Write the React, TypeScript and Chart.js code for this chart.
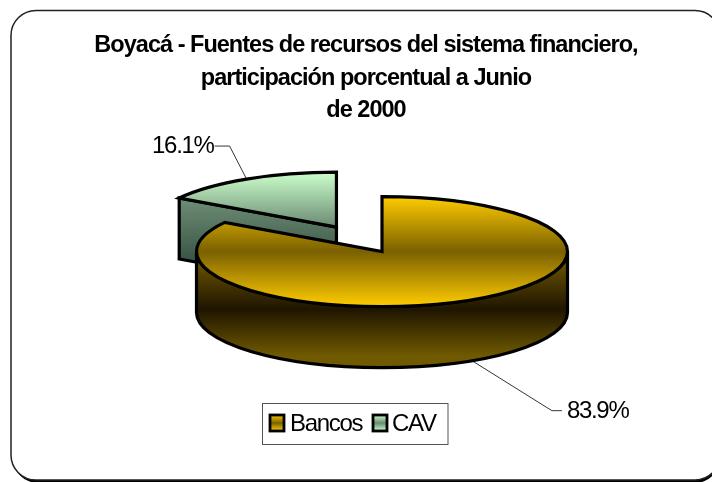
import React, { useEffect, useRef } from "react";
import { Chart, registerables } from "chart.js";

Chart.register(...registerables);

const categories = ["Bancos", "CAV"];
const shares = [83.9, 16.1];
const titleLines = [
  "Boyacá - Fuentes de recursos del sistema financiero,",
  "participación porcentual a Junio",
  "de 2000",
];

const FONT = '"Liberation Sans", Arial, sans-serif';
const DEPTH = 61;
const SQUASH = 0.2965;
const RADIUS = 185.5;
const EXPLODE = 94;
const faceColors = [
  ["#ffcc00", "#7a6000"],
  ["#ccffcc", "#6a8a72"],
];
const wallColors = [
  ["#7a6000", "#1f1500", "#705a00"],
  ["#6e8e76", "#3b5646", "#3b5646"],
];

function geometry(el: any) {
  const mid = (el.startAngle + el.endAngle) / 2;
  const off = el.options.offset || 0;
  const cx = el.x + Math.cos(mid) * off;
  const cy = el.y + Math.sin(mid) * off * SQUASH;
  return { mid, off, cx, cy, r: el.outerRadius };
}

function roundRectPath(ctx: CanvasRenderingContext2D, x: number, y: number, w: number, h: number, r: number) {
  ctx.beginPath();
  ctx.roundRect(x, y, w, h, r);
}

const piePlugin = {
  id: "pie3d",
  afterLayout(chart: any) {
    if (chart.titleBlock) {
      chart.titleBlock.left -= 16;
      chart.titleBlock.right -= 16;
    }
  },
  beforeDraw(chart: any) {
    const ctx = chart.ctx;
    ctx.save();
    roundRectPath(ctx, 13, 13, 707, 470, 25);
    ctx.fillStyle = "#000";
    ctx.fill();
    roundRectPath(ctx, 11, 10.5, 709, 469.5, 25);
    ctx.fillStyle = "#fff";
    ctx.fill();
    ctx.strokeStyle = "#222";
    ctx.lineWidth = 1.5;
    ctx.stroke();
    ctx.restore();
    ctx.letterSpacing = "-0.98px";
  },
  beforeDatasetsDraw(chart: any) {
    chart.ctx.letterSpacing = "0px";
  },
  beforeDatasetDraw(chart: any, args: any) {
    const ctx = chart.ctx;
    const arcs = args.meta.data;
    ctx.save();
    ctx.lineJoin = "miter";
    ctx.lineWidth = 3.2;
    ctx.strokeStyle = "#000";
    for (let i = arcs.length - 1; i >= 0; i--) {
      const el = arcs[i];
      const { cx, cy, r } = geometry(el);
      const a0 = el.startAngle;
      const a1 = el.endAngle;
      const px = (a: number) => cx + r * Math.cos(a);
      const py = (a: number) => cy + r * SQUASH * Math.sin(a);

      // outer wall, front half only
      const w0 = Math.max(a0, 0);
      const w1 = Math.min(a1, Math.PI);
      if (w1 > w0) {
        const g = ctx.createLinearGradient(0, cy, 0, cy + r * SQUASH + DEPTH);
        g.addColorStop(0, wallColors[i][0]);
        g.addColorStop(0.5, wallColors[i][1]);
        g.addColorStop(0.9, wallColors[i][2]);
        g.addColorStop(1, wallColors[i][2]);
        ctx.beginPath();
        ctx.ellipse(cx, cy + DEPTH, r, r * SQUASH, 0, w0, w1);
        ctx.lineTo(px(w1), py(w1));
        ctx.ellipse(cx, cy, r, r * SQUASH, 0, w1, w0, true);
        ctx.closePath();
        ctx.fillStyle = g;
        ctx.fill();
        ctx.stroke();
      }

      // cut faces that look towards the viewer
      const cuts = [];
      if (Math.cos(a0) < -1e-6) cuts.push(a0);
      if (Math.cos(a1) > 1e-6) cuts.push(a1);
      for (const a of cuts) {
        const top = Math.min(py(a), cy);
        const g = ctx.createLinearGradient(0, top, 0, top + DEPTH);
        g.addColorStop(0, wallColors[i][0]);
        g.addColorStop(1, wallColors[i][1]);
        ctx.beginPath();
        ctx.moveTo(px(a), py(a));
        ctx.lineTo(cx, cy);
        ctx.lineTo(cx, cy + DEPTH);
        ctx.lineTo(px(a), py(a) + DEPTH);
        ctx.closePath();
        ctx.fillStyle = g;
        ctx.fill();
        ctx.stroke();
      }

      // top face
      const g = ctx.createLinearGradient(0, cy - r * SQUASH, 0, cy + r * SQUASH);
      g.addColorStop(0, faceColors[i][0]);
      g.addColorStop(0.5, faceColors[i][1]);
      g.addColorStop(1, faceColors[i][0]);
      ctx.beginPath();
      ctx.ellipse(cx, cy, r, r * SQUASH, 0, a0, a1);
      ctx.lineTo(cx, cy);
      ctx.closePath();
      ctx.fillStyle = g;
      ctx.fill();
      ctx.stroke();
    }
    ctx.restore();
    return false;
  },
  afterDatasetsDraw(chart: any) {
    const ctx = chart.ctx;
    const arcs = chart.getDatasetMeta(0).data;
    ctx.save();
    ctx.font = `24px ${FONT}`;
    ctx.letterSpacing = "-1.3px";
    ctx.fillStyle = "#000";
    ctx.textBaseline = "middle";
    arcs.forEach((el: any, i: number) => {
      const { mid, cx, cy, r } = geometry(el);
      const ax = cx + r * Math.cos(mid);
      const front = Math.sin(mid) > 0;
      const ay = cy + r * SQUASH * Math.sin(mid) + (front ? DEPTH : 0);
      const right = Math.cos(mid) > 0;
      const ex = right ? ax + 80 : ax - 17;
      const ey = right ? ay + 50 : ay - 33;
      const tx = right ? ex + 10 : ex - 15;
      ctx.beginPath();
      ctx.moveTo(ax, ay);
      ctx.lineTo(ex, ey);
      ctx.lineTo(tx, ey);
      ctx.strokeStyle = "#000";
      ctx.lineWidth = 0.8;
      ctx.stroke();
      ctx.textAlign = right ? "left" : "right";
      ctx.fillText(`${shares[i].toFixed(1)}%`, right ? tx + 5 : tx - 1, ey + 0.5);
    });

    // legend
    const boxL = 262.5, boxT = 403.5, boxW = 185.5, boxH = 41;
    ctx.fillStyle = "#fff";
    ctx.fillRect(boxL, boxT, boxW, boxH);
    ctx.strokeStyle = "#555";
    ctx.lineWidth = 1;
    ctx.strokeRect(boxL, boxT, boxW, boxH);
    ctx.textAlign = "left";
    const swatchX = [270, 373];
    const textX = [290, 392];
    categories.forEach((name, i) => {
      const g = ctx.createLinearGradient(0, 415, 0, 431);
      g.addColorStop(0, faceColors[i][0]);
      g.addColorStop(0.5, faceColors[i][1]);
      g.addColorStop(1, faceColors[i][0]);
      ctx.fillStyle = g;
      ctx.fillRect(swatchX[i], 415, 14, 16);
      ctx.strokeStyle = "#000";
      ctx.lineWidth = 2.8;
      ctx.strokeRect(swatchX[i], 415, 14, 16);
      ctx.fillStyle = "#000";
      ctx.fillText(name, textX[i], 424);
    });
    ctx.restore();
  },
};

export default function App() {
  const ref = useRef<HTMLCanvasElement>(null);
  useEffect(() => {
    const chart = new Chart(ref.current!, {
      type: "pie",
      data: {
        labels: categories,
        datasets: [
          {
            data: shares,
            backgroundColor: faceColors.map((c) => c[0]),
            borderColor: "#000",
            offset: [0, EXPLODE],
            hoverOffset: 0,
          },
        ],
      },
      options: {
        animation: false,
        responsive: false,
        radius: RADIUS,
        layout: { padding: { left: 100, right: 48, top: 29, bottom: 106 } },
        plugins: {
          legend: { display: false },
          tooltip: { enabled: false },
          title: {
            display: true,
            text: titleLines,
            color: "#000",
            padding: 0,
            font: { family: FONT, size: 23.5, weight: "bold", lineHeight: 32.7 / 23.5 },
          },
        },
      } as any,
      plugins: [piePlugin],
    });
    return () => chart.destroy();
  }, []);
  return (
    <div style={{ position: "fixed", left: 0, top: 0, width: 712, height: 482 }}>
      <canvas ref={ref} width={712} height={482} style={{ display: "block" }} />
    </div>
  );
}
